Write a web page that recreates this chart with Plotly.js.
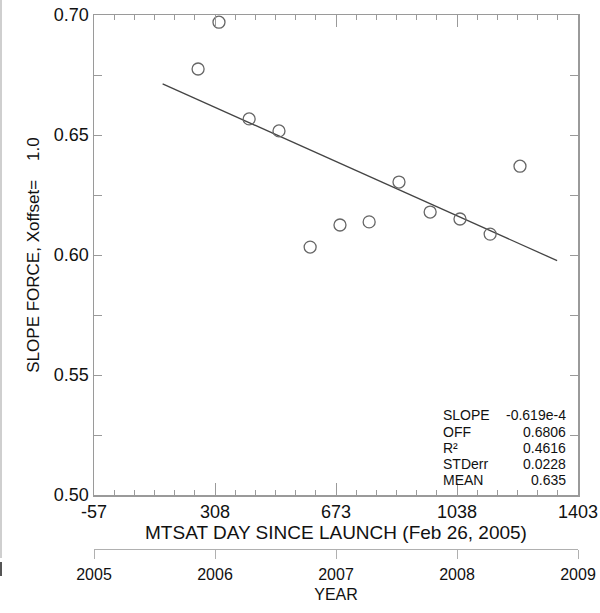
<!DOCTYPE html>
<html>
<head>
<meta charset="utf-8">
<script src="https://cdn.plot.ly/plotly-3.0.1.min.js"></script>
<style>
  html, body { margin: 0; padding: 0; background: #fff; }
  #chart { width: 600px; height: 613px; }
</style>
</head>
<body>
<div id="chart"></div>
<script>
// Slope-force samples against MTSAT day since launch (Feb 26, 2005)
var days = [257, 320, 411, 501, 595, 685, 773, 863, 957, 1047, 1138, 1228];
var slopeForce = [0.6775, 0.697, 0.6567, 0.6517, 0.6033, 0.6125, 0.6138, 0.6304, 0.6179, 0.615, 0.6087, 0.637];

// Linear fit: value = OFF + SLOPE * day
var fitSlope = -0.619e-4;
var fitOffset = 0.6806;
var fitDays = [150, 1340];

// Fit statistics printed in the lower-right corner
var statLabels = ['SLOPE', 'OFF', 'R\u00b2', 'STDerr', 'MEAN'];
var statValues = ['-0.619e-4', '0.6806', '0.4616', '0.0228', '0.635'];

// Axis ticks
var dayTicks = [-57, 308, 673, 1038, 1403];
var dayTickLabels = ['-57', '308', '673', '1038', '1403'];
var yearTicks = [2005, 2006, 2007, 2008, 2009];

var fitValues = fitDays.map(function (d) { return fitOffset + fitSlope * d; });

var axisColor = '#9a9a9a';
var textColor = '#111';
var font = 'Liberation Sans, Arial, Helvetica, sans-serif';

var traces = [
  {
    x: fitDays, y: fitValues, type: 'scatter', mode: 'lines',
    line: { color: '#444', width: 1.3 }, hoverinfo: 'skip', showlegend: false
  },
  {
    x: days, y: slopeForce, type: 'scatter', mode: 'markers',
    marker: { symbol: 'circle-open', size: 12, color: '#666', line: { width: 1.3, color: '#666' } },
    showlegend: false
  },
  {
    // carrier trace for the calendar-year axis
    x: [yearTicks[0], yearTicks[yearTicks.length - 1]], y: [0.5, 0.5], xaxis: 'x2', yaxis: 'y',
    type: 'scatter', mode: 'none', hoverinfo: 'skip', showlegend: false
  }
];

// paper fractions: plot area 94..578 px wide, paper spans y 15..549 px
function px(x) { return (x - 94) / 484; }
function py(y) { return (549 - y) / 534; }

var annotations = [];
var rowY = [415, 431.5, 448, 464, 480];
statLabels.forEach(function (lab, i) {
  annotations.push({
    xref: 'paper', yref: 'paper', x: px(441), y: py(rowY[i]),
    xanchor: 'left', yanchor: 'middle', showarrow: false, text: lab,
    font: { family: font, size: 14, color: textColor }
  });
  annotations.push({
    xref: 'paper', yref: 'paper', x: px(568), y: py(rowY[i]),
    xanchor: 'right', yanchor: 'middle', showarrow: false, text: statValues[i],
    font: { family: font, size: 14, color: textColor }
  });
});

var layout = {
  width: 600, height: 613,
  margin: { l: 94, r: 22, t: 15, b: 64 },
  paper_bgcolor: '#fff', plot_bgcolor: '#fff',
  font: { family: font, color: textColor },
  xaxis: {
    range: [-57, 1403], tickmode: 'array', tickvals: dayTicks, ticktext: dayTickLabels,
    ticks: 'inside', ticklen: 12, tickwidth: 1, tickcolor: axisColor,
    showline: true, linecolor: axisColor, linewidth: 1.5, mirror: 'allticks',
    showgrid: false, zeroline: false,
    minor: { tick0: -57, dtick: 365 / 6, ticks: 'inside', ticklen: 5, tickcolor: axisColor, showgrid: false },
    tickfont: { size: 18, color: textColor },
    title: { text: 'MTSAT DAY SINCE LAUNCH (Feb 26, 2005)', font: { size: 19, color: textColor }, standoff: 0 },
    anchor: 'y'
  },
  xaxis2: {
    range: [2005, 2009], tickmode: 'array', tickvals: yearTicks,
    ticks: 'outside', ticklen: 9, tickwidth: 1, tickcolor: '#b0b0b0',
    showline: true, linecolor: '#b0b0b0', linewidth: 1.2,
    showgrid: false, zeroline: false, ticklabelstandoff: 2,
    anchor: 'free', position: 0, overlaying: 'x', side: 'bottom',
    tickfont: { size: 16, color: textColor },
    title: { text: 'YEAR', font: { size: 16, color: textColor }, standoff: 6 }
  },
  yaxis: {
    domain: [py(495), 1],
    range: [0.5, 0.7], dtick: 0.05, tick0: 0.5, tickformat: '.2f',
    ticks: 'inside', ticklen: 8, tickwidth: 1, tickcolor: axisColor,
    showline: true, linecolor: axisColor, linewidth: 1.5, mirror: 'allticks',
    showgrid: false, zeroline: false,
    minor: { dtick: 0.025, ticks: 'inside', ticklen: 7, tickcolor: axisColor, showgrid: false },
    tickfont: { size: 18, color: textColor },
    title: { text: 'SLOPE FORCE, Xoffset=\u00a0\u00a0\u00a0 1.0', font: { size: 17, color: textColor }, standoff: 10 }
  },
  annotations: annotations,
  shapes: [
    { type: 'line', xref: 'paper', yref: 'paper', x0: px(1), x1: px(1), y0: py(0), y1: py(558),
      line: { color: '#cfcfcf', width: 2 } },
    { type: 'line', xref: 'paper', yref: 'paper', x0: px(1), x1: px(1), y0: py(562), y1: py(576),
      line: { color: '#555', width: 2 } }
  ]
};

Plotly.newPlot('chart', traces, layout, { displayModeBar: false, staticPlot: true });
</script>
</body>
</html>
